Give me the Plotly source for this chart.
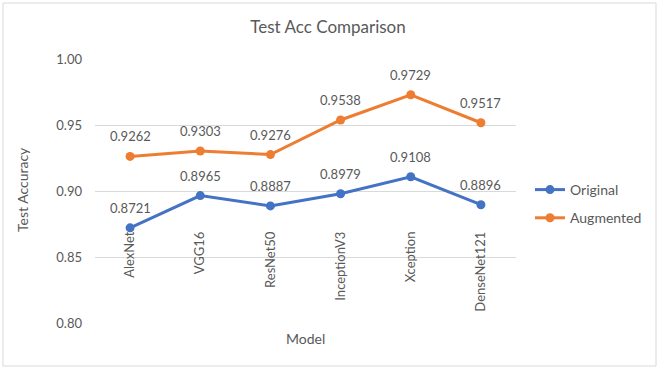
import plotly.graph_objects as go

models = ["AlexNet", "VGG16", "ResNet50", "InceptionV3", "Xception", "DenseNet121"]
original = [0.8721, 0.8965, 0.8887, 0.8979, 0.9108, 0.8896]
augmented = [0.9262, 0.9303, 0.9276, 0.9538, 0.9729, 0.9517]
y_ticks = [0.80, 0.85, 0.90, 0.95, 1.00]

W, H = 660, 370
L, R, T, B = 95, 144, 59, 47
pw, ph = W - L - R, H - T - B

FONT = "Lato"
GRAY = "#595959"

fig = go.Figure()
for name, vals, color, grp in [("Original", original, "#4472C4", "a"),
                               ("Augmented", augmented, "#ED7D31", "b")]:
    fig.add_trace(go.Scatter(
        x=models, y=vals, name=name, mode="lines+markers",
        line=dict(color=color, width=3), marker=dict(size=9, color=color),
        legendgroup=grp, cliponaxis=False,
    ))

def px(x):
    return (x - L) / pw

def py(y):
    return (H - B - y) / ph

annotations = []
for vals in (original, augmented):
    for m, v in zip(models, vals):
        annotations.append(dict(x=m, y=v, xref="x", yref="y", text=f"{v:.4f}", showarrow=False,
                                yshift=20, xanchor="center", yanchor="middle",
                                font=dict(family=FONT, size=13, color=GRAY)))

annotations += [
    dict(text="Model", xref="paper", yref="paper", x=0.5, y=py(338), showarrow=False,
         font=dict(family=FONT, size=14, color=GRAY), xanchor="center", yanchor="middle"),
    dict(text="Test Accuracy", xref="paper", yref="paper", x=px(22), y=py(190), showarrow=False,
         textangle=-90, font=dict(family=FONT, size=14, color=GRAY), xanchor="center", yanchor="middle"),
]

fig.update_layout(
    width=W, height=H,
    margin=dict(l=L, r=R, t=T, b=B),
    paper_bgcolor="white", plot_bgcolor="white",
    font=dict(family=FONT, color=GRAY, size=12),
    title=dict(text="Test Acc Comparison", x=0.497, xanchor="center", y=1 - 27 / H, yanchor="middle",
               font=dict(family=FONT, size=17, color=GRAY)),
    xaxis=dict(
        type="category", range=[-0.5, 5.5], anchor="free", position=py(228),
        tickangle=-90, showgrid=False, showline=False, zeroline=False, ticks="",
        tickfont=dict(family=FONT, size=13, color=GRAY),
    ),
    yaxis=dict(
        range=[0.80, 1.00], tickvals=y_ticks, tickformat=".2f",
        showgrid=True, gridcolor="#D9D9D9", gridwidth=1, zeroline=False, showline=False,
        ticks="", ticklabelstandoff=12,
        tickfont=dict(family=FONT, size=13, color=GRAY),
    ),
    showlegend=True,
    legend=dict(x=px(530), y=py(174), xanchor="left", yanchor="top",
                font=dict(family=FONT, size=14, color=GRAY), tracegroupgap=7,
                traceorder="grouped", bgcolor="rgba(0,0,0,0)"),
    annotations=annotations,
    shapes=[dict(type="rect", xref="paper", yref="paper", x0=px(3), x1=px(656), y0=py(366), y1=py(3),
                 line=dict(color="#D9D9D9", width=1), fillcolor="rgba(0,0,0,0)", layer="below")],
)

fig.write_html("out.html", post_script="document.body.style.margin='0';",
               config={"displayModeBar": False})
